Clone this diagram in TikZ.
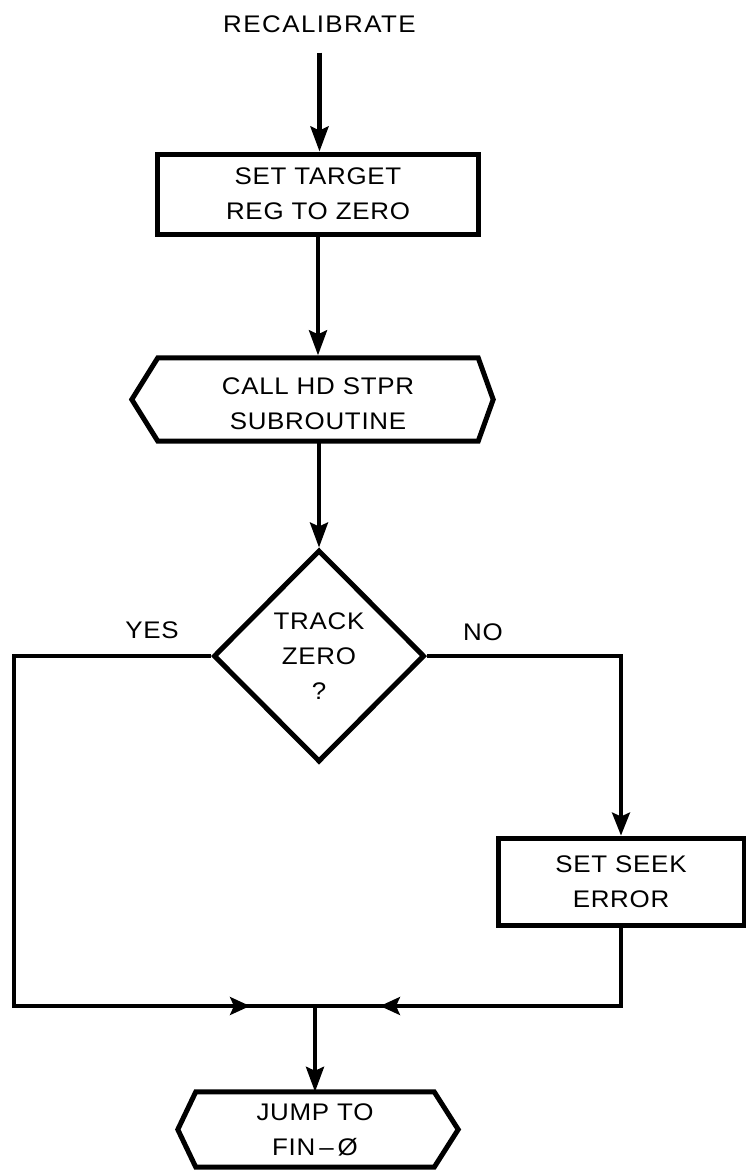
\documentclass[tikz,border=0pt]{standalone}
\usepackage{fontspec}
\setmainfont{Liberation Sans}[FakeStretch=1.08,LetterSpace=3]
\usetikzlibrary{arrows.meta,shapes.geometric,calc}
\begin{document}
\begin{tikzpicture}[x=1pt,y=-1pt,
  every node/.style={font=\fontsize{24}{35}\selectfont, align=center, inner sep=0pt},
  proc/.style={draw, line width=5pt, rectangle},
  hexa/.style={line width=5pt, line join=miter},
  flow/.style={line width=4pt, -{Stealth[length=25pt,width=18pt,inset=4pt]}},
  side/.style={line width=3.5pt},
  sidearrow/.style={line width=3.5pt, -{Stealth[length=20pt,width=18pt,inset=4pt]}},
  vflow/.style={line width=3.5pt, -{Stealth[length=23pt,width=18pt,inset=4pt]}},
]
\useasboundingbox (0,0) rectangle (746,1175);
\fill[white] (0,0) rectangle (746,1175);

% nodes
\node (recal) at (319.5,24) {\addfontfeature{LetterSpace=6}RECALIBRATE};
\node[proc, minimum width=321, minimum height=80] (b1) at (318,194) {SET TARGET\\REG TO ZERO};
% text of h1 sits 4.5 lower than the centre of its outline
\node[minimum width=320, minimum height=83] (h1) at (318,404) {CALL HD STPR\\SUBROUTINE};
\draw[hexa] ([yshift=4.5pt]h1.north west) -- ([yshift=4.5pt]h1.north east)
  -- ([xshift=15pt,yshift=4.5pt]h1.east) -- ([yshift=4.5pt]h1.south east)
  -- ([yshift=4.5pt]h1.south west) -- ([xshift=-26pt,yshift=4.5pt]h1.west) -- cycle;
\node[diamond, draw, line width=5pt, minimum width=211, minimum height=212] (d) at (319,656)
  {TRACK\\ZERO\\?};
\node (yes) at (152,630) {YES};
\node (no) at (483,632) {NO};
\node[proc, minimum width=246, minimum height=87] (seek) at (621,881.5) {SET SEEK\\ERROR};
\node[minimum width=238, minimum height=75] (h2) at (315,1129.5) {JUMP TO\\FIN\,–\,Ø};
\draw[hexa] (h2.north west) -- (h2.north east) -- ([xshift=24pt]h2.east) -- (h2.south east)
  -- (h2.south west) -- ([xshift=-18pt]h2.west) -- cycle;

\coordinate (cl) at (14,1006);
\coordinate (j) at (315,1006);
\coordinate (ya) at (250,1006);
\coordinate (yb) at (380,1006);

% connectors
\draw[flow, line width=4.5pt] (recal.south) ++(0,20) -- (recal.south |- b1.north);
\draw[flow] (b1.south) -- ([yshift=7pt]b1.south |- h1.north);
\draw[flow] ([yshift=4.5pt]h1.south -| d.north) -- (d.north);
\draw[side] (d.west) -| (cl) -- (j);
\draw[sidearrow] (cl) -- (ya);
\draw[side] (seek.south) |- (j);
\draw[sidearrow] (seek.south |- j) -- (yb);
\draw[vflow] (d.east) -| (seek.north);
\draw[flow] (j) -- (h2.north);
\end{tikzpicture}
\end{document}
